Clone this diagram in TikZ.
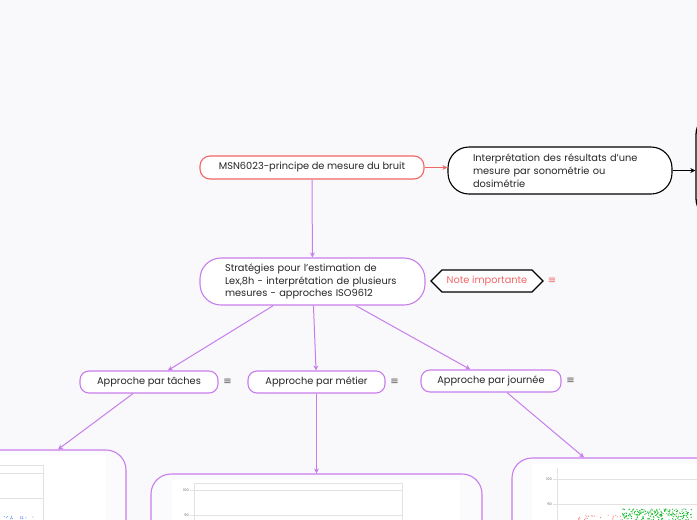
\documentclass[tikz,border=0pt]{standalone}
\usepackage{fontspec}
\setmainfont{Poppins}
\newfontfamily\symfont{DejaVu Sans}
\usetikzlibrary{shapes.symbols,arrows.meta}

\definecolor{canvas}{RGB}{249,249,251}
\definecolor{rootred}{RGB}{242,102,102}
\definecolor{lilac}{RGB}{200,125,236}
\definecolor{gridgray}{RGB}{226,226,226}
\definecolor{dotgreen}{RGB}{20,185,40}
\definecolor{dotred}{RGB}{245,140,140}
\definecolor{dotblue}{RGB}{110,150,240}

\begin{document}
\begin{tikzpicture}[x=1pt, y=-1pt, >={Stealth[length=5pt,width=5pt]},
    every node/.style={font=\fontsize{9.8}{12.8}\selectfont, text=black!85},
    topic/.style={draw, rounded corners=10pt, line width=1.1pt, fill=white, minimum height=23pt, inner sep=0pt},
    bigtopic/.style={draw, rounded corners=21pt, line width=1.1pt, fill=white, minimum height=47pt, inner sep=0pt, align=left},
    subtopic/.style={draw=lilac, rounded corners=9pt, line width=1.1pt, fill=white, minimum height=22pt, inner sep=0pt},
    imgbox/.style={draw=lilac, rounded corners=20pt, line width=1.1pt, fill=canvas!60!white, minimum height=200pt, inner sep=0pt},
    menu/.style={font=\symfont\fontsize{10}{12}\selectfont, text=black!65},
    tick/.style={font=\fontsize{3.5}{4}\selectfont, text=black!60, anchor=east, inner sep=1pt},
    link/.style={->, lilac, line width=1pt}]

    % Canvas
    \fill[canvas] (0,0) rectangle (697,520);
    \useasboundingbox (0,0) rectangle (697,520);

    % Central topic
    \node[topic, draw=rootred, minimum width=224pt] (root) at (312,167.5) {MSN6023-principe de mesure du bruit};

    % Right branch
    \node[bigtopic, draw=black, minimum width=224pt, text width=174pt] (interp) at (560,170.5)
        {Interprétation des résultats d’une\\mesure par sonométrie ou\\dosimétrie};
    \node[draw=black, rounded corners=20pt, line width=1.3pt, fill=white, minimum width=100pt, minimum height=104pt] (next) at (746,166.5) {};

    % Strategies
    \node[bigtopic, draw=lilac, minimum width=225pt, text width=175pt] (strat) at (312.5,281.5)
        {Stratégies pour l’estimation de Lex,8h - interprétation de plusieurs mesures - approches ISO9612};
    \node[draw=black, line width=1.1pt, fill=white, shape=signal, signal to=west and east, minimum width=112pt, minimum height=22pt, inner sep=0pt, text=rootred] (note) at (487,281) {Note importante};
    \node[menu, text=rootred] (note-menu) at (552,281) {≡};

    % Approaches
    \foreach \name/\x/\y/\w/\txt in {taches/149/382/138/Approche par tâches,
                                    metier/316.5/382/137/Approche par métier,
                                    journee/491/381/140/Approche par journée}
    {
        \node[subtopic, minimum width=\w pt] (\name) at (\x,\y) {\txt};
        \node[menu] (\name-menu) at ([xshift=9pt]\name.east) {≡};
    }

    % Pictures
    \node[imgbox, minimum width=260pt] (taches-img) at (-4,550) {};
    \node[imgbox, minimum width=331pt] (metier-img) at (316.5,574) {};
    \node[imgbox, minimum width=368pt] (journee-img) at (696,558) {};

    % Chart - taches
    \fill[white] (0,455) rectangle (106,530);
    \draw[gridgray, line width=0.6pt] (-5,465) rectangle (43,530);
    \foreach \y in {473,498}
        \draw[gridgray, line width=0.6pt] (-5,\y) -- (43,\y);
    \pgfmathsetseed{11}
    \foreach \i in {1,...,14}
        \fill[dotblue] ({rnd*35},{516+rnd*4}) circle (0.6pt);

    % Chart - metier
    \fill[white] (172,480) rectangle (460,530);
    \draw[gridgray, line width=0.6pt] (194,483) rectangle (402,530);
    \foreach \y/\lab in {490/100, 515/90}
    {
        \draw[gridgray, line width=0.6pt] (190,\y) -- (402,\y);
        \node[tick] at (190,\y) {\lab};
    }

    % Chart - journee
    \fill[white] (532,464) rectangle (700,530);
    \draw[gridgray, line width=0.6pt] (557,468) -- (557,530);
    \foreach \y/\lab in {479/100, 504/90}
    {
        \draw[gridgray, line width=0.6pt] (553,\y) -- (700,\y);
        \node[tick] at (553,\y) {\lab};
    }
    \foreach \i in {1,...,25}
        \fill[dotred] ({578+rnd*44},{515+rnd*5}) circle (0.6pt);
    \foreach \i in {1,...,220}
        \fill[dotgreen] ({622+rnd*70},{509+rnd*11}) circle (0.6pt);

    % Connections
    \draw[->, rootred, line width=1pt] (root.east) -- (root.east -| interp.west);
    \draw[->, black, line width=1pt] (interp.east) -- (interp.east -| next.west);
    \draw[link] (root) -- (strat);
    \foreach \name in {taches,metier,journee}
        \draw[link] (strat) -- (\name);
    \draw[link] ([xshift=-16pt]taches.south) -- ([xshift=62pt]taches-img.north);
    \draw[link] (metier.south) -- (metier-img.north);
    \draw[link] ([xshift=16pt]journee.south) -- ([xshift=-112pt]journee-img.north);

\end{tikzpicture}
\end{document}
